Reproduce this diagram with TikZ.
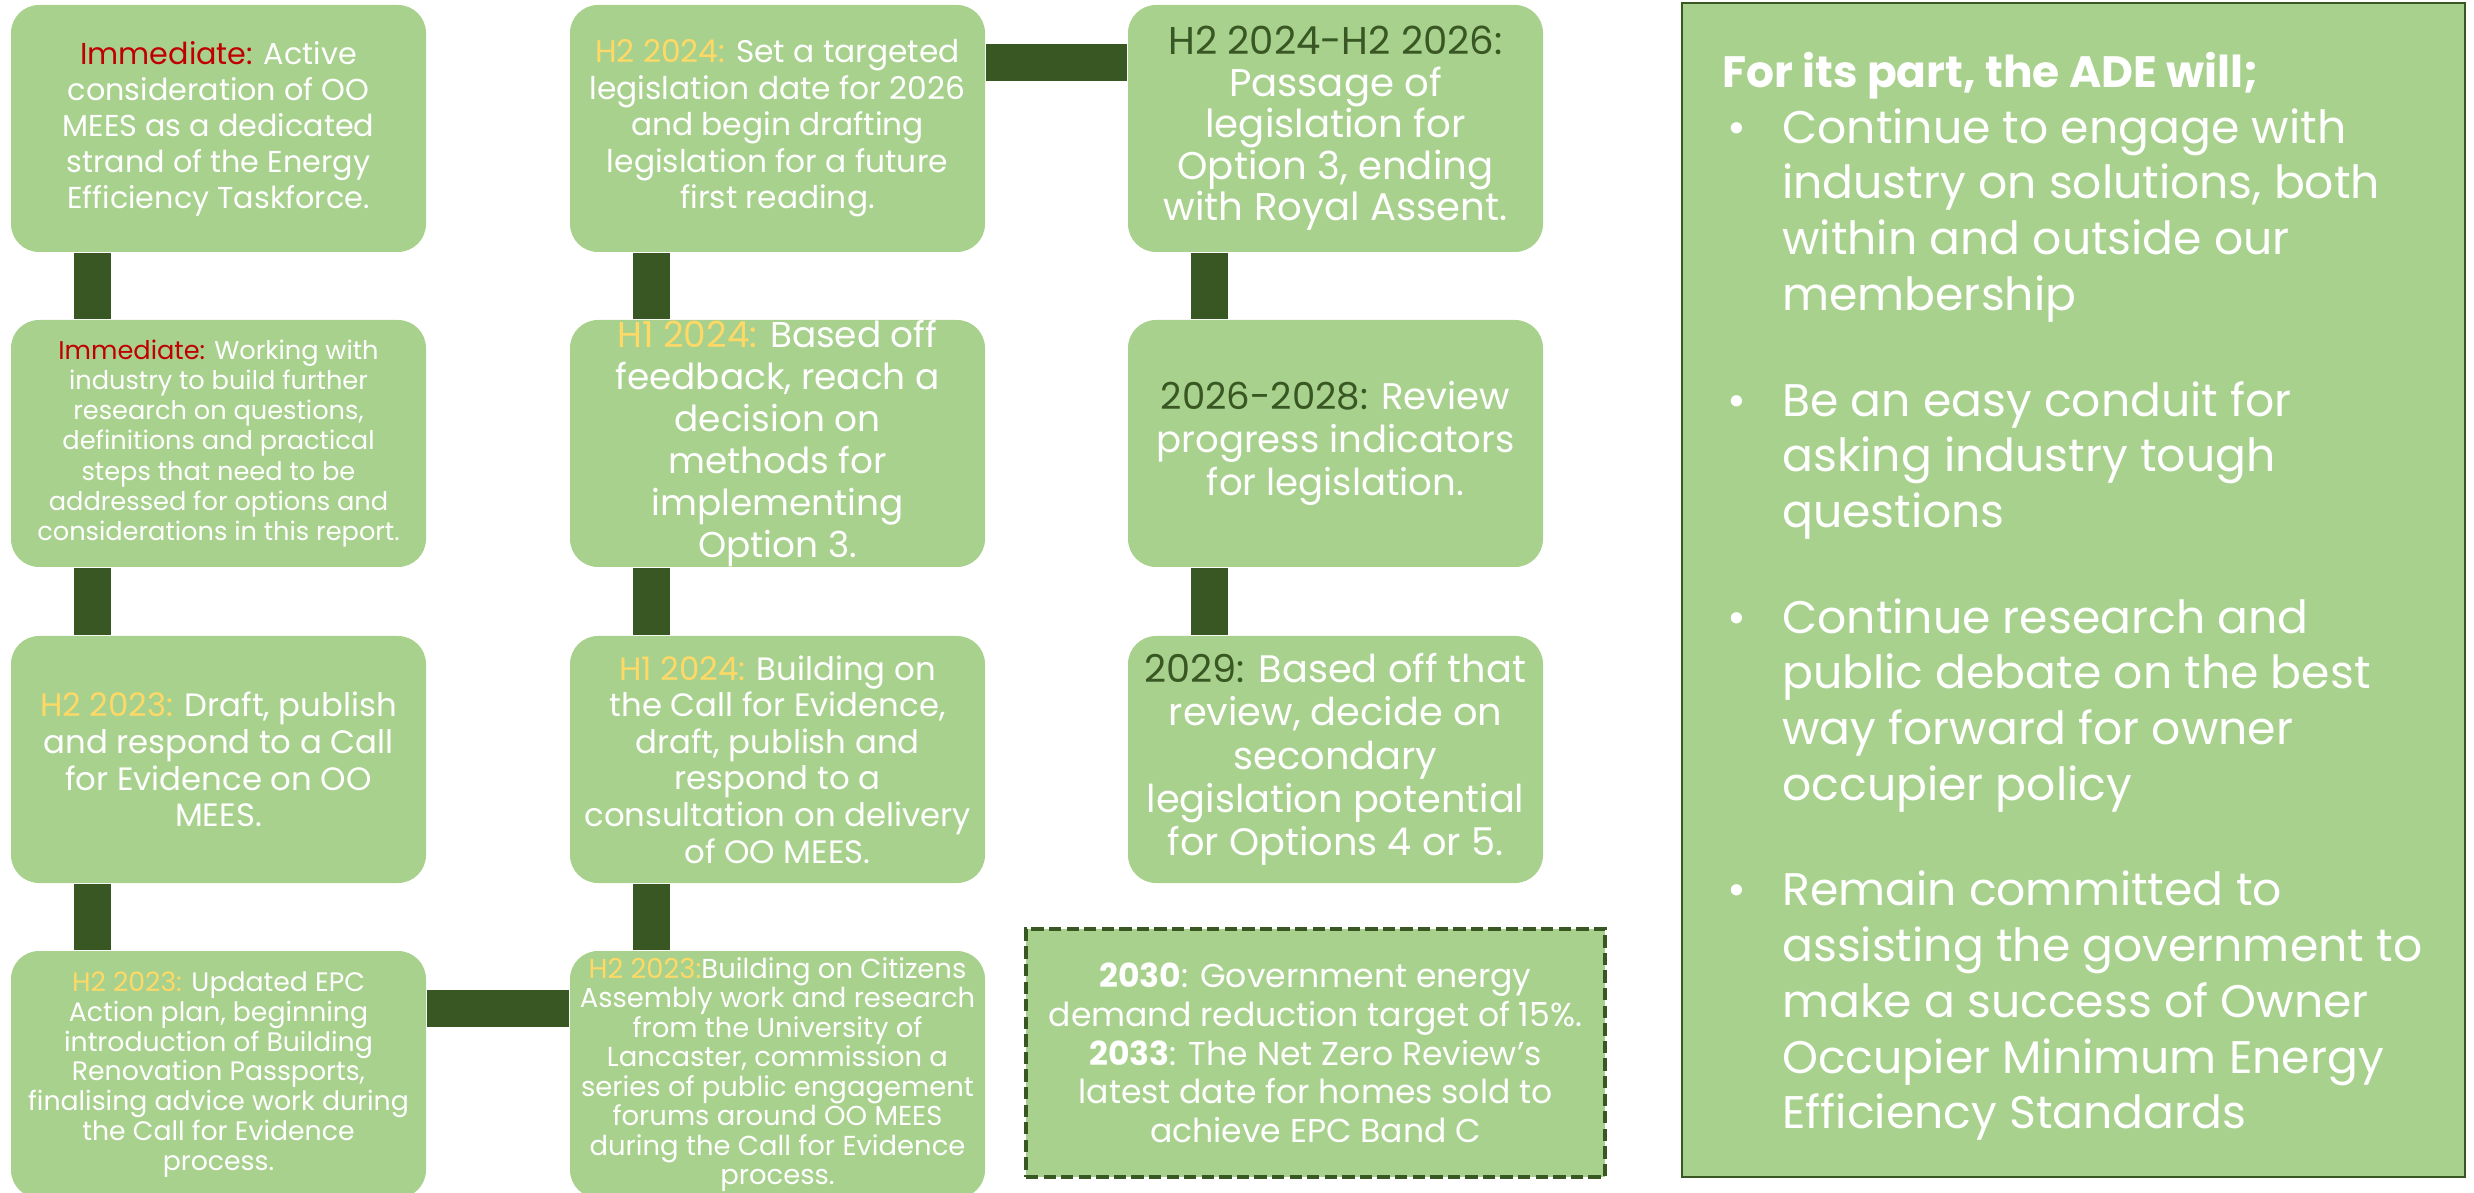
\documentclass[tikz,border=0pt]{standalone}
\usepackage{fontspec}
\setmainfont{Poppins}

\definecolor{boxgreen}{HTML}{A9D18E}
\definecolor{linkgreen}{HTML}{385723}
\definecolor{nowred}{HTML}{C00000}
\definecolor{soonyellow}{HTML}{FFD966}

\newcommand{\boxsize}[2]{\fontsize{#1}{#2}\selectfont}
\newcommand{\urgent}[1]{\textcolor{nowred}{#1}}
\newcommand{\soon}[1]{\textcolor{soonyellow}{#1}}
\newcommand{\later}[1]{\textcolor{linkgreen}{#1}}
\newcommand{\adebul}{\makebox[0.6cm][l]{\hspace{0.05cm}\textbullet}}
\newcommand{\adegap}{\hspace*{0.6cm}}

\begin{document}
\begin{tikzpicture}[
    plan/.style={rectangle, rounded corners=0.28cm, fill=boxgreen, minimum width=4.15cm,
      minimum height=2.47cm, inner sep=0pt, text=white, align=center},
    link/.style={draw=linkgreen, line width=0.37cm}]
	  \useasboundingbox (0,0) rectangle (24.74,-11.93);
	  \node[plan, font=\boxsize{8.6}{10.25}] (a1) at (2.185,-1.285)
	    {\urgent{Immediate:} Active\\consideration of OO\\MEES as a dedicated\\strand of the Energy\\Efficiency Taskforce.};
	  \node[plan, font=\boxsize{7.3}{8.6}] (a2) at (2.185,-4.435)
	    {\urgent{Immediate:} Working with\\industry to build further\\research on questions,\\definitions and practical\\steps that need to be\\addressed for options and\\considerations in this report.};
	  \node[plan, font=\boxsize{9.2}{10.45}] (a3) at (2.185,-7.595)
	    {\soon{H2 2023:} Draft, publish\\and respond to a Call\\for Evidence on OO\\MEES.};
	  \node[plan, font=\boxsize{7.6}{8.5}] (a4) at (2.185,-10.745)
	    {\soon{H2 2023:} Updated EPC\\Action plan, beginning\\introduction of Building\\Renovation Passports,\\finalising advice work during\\the Call for Evidence\\process.};
	  \node[plan, font=\boxsize{8.9}{10.4}] (b1) at (7.775,-1.285)
	    {\soon{H2 2024:} Set a targeted\\legislation date for 2026\\and begin drafting\\legislation for a future\\first reading.};
	  \node[plan, font=\boxsize{10.2}{11.9}] (b2) at (7.775,-4.435)
	    {\soon{H1 2024:} Based off\\feedback, reach a\\decision on\\methods for\\implementing\\Option 3.};
	  \node[plan, font=\boxsize{9.2}{10.4}] (b3) at (7.775,-7.595)
	    {\soon{H1 2024:} Building on\\the Call for Evidence,\\draft, publish and\\respond to a\\consultation on delivery\\of OO MEES.};
	  \node[plan, font=\boxsize{7.8}{8.4}] (b4) at (7.775,-10.745)
	    {\soon{H2 2023:}Building on Citizens\\Assembly work and research\\from the University of\\Lancaster, commission a\\series of public engagement\\forums around OO MEES\\during the Call for Evidence\\process.};
	  \node[plan, font=\boxsize{11}{11.8}] (c1) at (13.355,-1.285)
	    {\later{H2 2024-H2 2026:}\\Passage of\\legislation for\\Option 3, ending\\with Royal Assent.};
	  \node[plan, font=\boxsize{10.55}{12.3}] (c2) at (13.355,-4.435)
	    {\later{2026-2028:} Review\\progress indicators\\for legislation.};
	  \node[plan, font=\boxsize{10.9}{12.3}] (c3) at (13.355,-7.595)
	    {\later{2029:} Based off that\\review, decide on\\secondary\\legislation potential\\for Options 4 or 5.};
	  \node[fill=boxgreen, draw=linkgreen, line width=1.2pt, dash pattern=on 3.5pt off 1.5pt,
	    minimum width=5.79cm, minimum height=2.48cm, inner sep=0pt, text=white, align=center,
	    font=\boxsize{9.4}{11}] (target) at (13.155,-10.53)
	    {\textbf{2030}: Government energy\\demand reduction target of 15\%.\\\textbf{2033}: The Net Zero Review’s\\latest date for homes sold to\\achieve EPC Band C};
	  \draw[link] ([xshift=0.82cm]a1.south west) -- ([xshift=0.82cm]a2.north west);
	  \draw[link] ([xshift=0.82cm]a2.south west) -- ([xshift=0.82cm]a3.north west);
	  \draw[link] ([xshift=0.82cm]a3.south west) -- ([xshift=0.82cm]a4.north west);
	  \draw[link] ([yshift=-0.58cm]a4.north east) -- ([yshift=-0.58cm]b4.north west);
	  \draw[link] ([xshift=0.82cm]b4.north west) -- ([xshift=0.82cm]b3.south west);
	  \draw[link] ([xshift=0.82cm]b3.north west) -- ([xshift=0.82cm]b2.south west);
	  \draw[link] ([xshift=0.82cm]b2.north west) -- ([xshift=0.82cm]b1.south west);
	  \draw[link] ([yshift=-0.58cm]b1.north east) -- ([yshift=-0.58cm]c1.north west);
	  \draw[link] ([xshift=0.82cm]c1.south west) -- ([xshift=0.82cm]c2.north west);
	  \draw[link] ([xshift=0.82cm]c2.south west) -- ([xshift=0.82cm]c3.north west);
	  \node[draw=linkgreen, line width=0.8pt, fill=boxgreen, minimum width=7.83cm,
	    minimum height=11.74cm, inner sep=0pt] (ade) at (20.735,-5.90) {};
	  \node[anchor=north west, inner sep=0pt, text=white, align=left, font=\boxsize{13}{15.85}]
	    (adetext) at ([xshift=0.41cm,yshift=-0.5cm]ade.north west)
	    {{\bfseries\boxsize{12.5}{15.85}For its part, the ADE will;}\\
	     \adebul Continue to engage with\\
	     \adegap industry on solutions, both\\
	     \adegap within and outside our\\
	     \adegap membership\\[0.5cm]
	     \adebul Be an easy conduit for\\
	     \adegap asking industry tough\\
	     \adegap questions\\[0.5cm]
	     \adebul Continue research and\\
	     \adegap public debate on the best\\
	     \adegap way forward for owner\\
	     \adegap occupier policy\\[0.5cm]
	     \adebul Remain committed to\\
	     \adegap assisting the government to\\
	     \adegap make a success of Owner\\
	     \adegap Occupier Minimum Energy\\
	     \adegap Efficiency Standards};
	\end{tikzpicture}
\end{document}
